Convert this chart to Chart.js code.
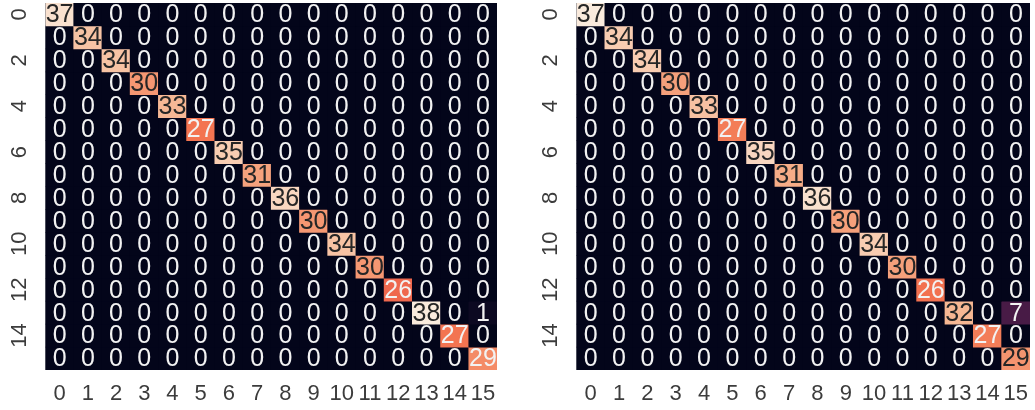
<!DOCTYPE html>
<html>
<head>
<meta charset="utf-8">
<script src="https://cdn.jsdelivr.net/npm/chart.js@4.4.1/dist/chart.umd.min.js"></script>
<style>
  html, body { margin: 0; padding: 0; background: #fff; }
  #wrap { position: relative; width: 1035px; height: 410px; }
  canvas { position: absolute; top: 0; }
</style>
</head>
<body>
<div id="wrap">
  <canvas id="leftChart" width="517" height="410" style="left:0"></canvas>
  <canvas id="rightChart" width="518" height="410" style="left:517px"></canvas>
</div>
<script>
const classLabels = ['0','1','2','3','4','5','6','7','8','9','10','11','12','13','14','15'];
const rowTickLabels = ['0','2','4','6','8','10','12','14'];

// confusion matrices, row = true class, column = predicted class
const leftCounts = [
  [37,0,0,0,0,0,0,0,0,0,0,0,0,0,0,0],
  [0,34,0,0,0,0,0,0,0,0,0,0,0,0,0,0],
  [0,0,34,0,0,0,0,0,0,0,0,0,0,0,0,0],
  [0,0,0,30,0,0,0,0,0,0,0,0,0,0,0,0],
  [0,0,0,0,33,0,0,0,0,0,0,0,0,0,0,0],
  [0,0,0,0,0,27,0,0,0,0,0,0,0,0,0,0],
  [0,0,0,0,0,0,35,0,0,0,0,0,0,0,0,0],
  [0,0,0,0,0,0,0,31,0,0,0,0,0,0,0,0],
  [0,0,0,0,0,0,0,0,36,0,0,0,0,0,0,0],
  [0,0,0,0,0,0,0,0,0,30,0,0,0,0,0,0],
  [0,0,0,0,0,0,0,0,0,0,34,0,0,0,0,0],
  [0,0,0,0,0,0,0,0,0,0,0,30,0,0,0,0],
  [0,0,0,0,0,0,0,0,0,0,0,0,26,0,0,0],
  [0,0,0,0,0,0,0,0,0,0,0,0,0,38,0,1],
  [0,0,0,0,0,0,0,0,0,0,0,0,0,0,27,0],
  [0,0,0,0,0,0,0,0,0,0,0,0,0,0,0,29]
];
const rightCounts = [
  [37,0,0,0,0,0,0,0,0,0,0,0,0,0,0,0],
  [0,34,0,0,0,0,0,0,0,0,0,0,0,0,0,0],
  [0,0,34,0,0,0,0,0,0,0,0,0,0,0,0,0],
  [0,0,0,30,0,0,0,0,0,0,0,0,0,0,0,0],
  [0,0,0,0,33,0,0,0,0,0,0,0,0,0,0,0],
  [0,0,0,0,0,27,0,0,0,0,0,0,0,0,0,0],
  [0,0,0,0,0,0,35,0,0,0,0,0,0,0,0,0],
  [0,0,0,0,0,0,0,31,0,0,0,0,0,0,0,0],
  [0,0,0,0,0,0,0,0,36,0,0,0,0,0,0,0],
  [0,0,0,0,0,0,0,0,0,30,0,0,0,0,0,0],
  [0,0,0,0,0,0,0,0,0,0,34,0,0,0,0,0],
  [0,0,0,0,0,0,0,0,0,0,0,30,0,0,0,0],
  [0,0,0,0,0,0,0,0,0,0,0,0,26,0,0,0],
  [0,0,0,0,0,0,0,0,0,0,0,0,0,32,0,7],
  [0,0,0,0,0,0,0,0,0,0,0,0,0,0,27,0],
  [0,0,0,0,0,0,0,0,0,0,0,0,0,0,0,29]
];

// seaborn "rocket" colormap, approximated by linear stops
const rocket = [
  [0.000, [3, 5, 26]],
  [0.143, [53, 25, 62]],
  [0.286, [112, 31, 87]],
  [0.429, [173, 23, 89]],
  [0.571, [225, 51, 66]],
  [0.714, [243, 118, 81]],
  [0.857, [246, 180, 143]],
  [1.000, [250, 235, 221]]
];

const FONT = '"Liberation Sans", Arial, sans-serif';

function rocketColor(t) {
  t = Math.max(0, Math.min(1, t));
  for (let i = 1; i < rocket.length; i++) {
    if (t <= rocket[i][0]) {
      const [t0, c0] = rocket[i - 1];
      const [t1, c1] = rocket[i];
      const f = (t - t0) / (t1 - t0);
      return c0.map((v, k) => Math.round(v + (c1[k] - v) * f));
    }
  }
  return rocket[rocket.length - 1][1];
}

function luminance(rgb) {
  const lin = rgb.map(v => {
    v /= 255;
    return v <= 0.03928 ? v / 12.92 : Math.pow((v + 0.055) / 1.055, 2.4);
  });
  return 0.2126 * lin[0] + 0.7152 * lin[1] + 0.0722 * lin[2];
}

const heatmapPlugin = {
  id: 'heatmapPlugin',
  beforeDatasetsDraw(chart) {
    // fill the plot with the zero colour so cell seams don't show
    const a = chart.chartArea;
    const ctx = chart.ctx;
    ctx.save();
    ctx.fillStyle = 'rgb(3,5,26)';
    ctx.fillRect(a.left, a.top, a.right - a.left, a.bottom - a.top);
    ctx.restore();
  },
  afterDatasetsDraw(chart) {
    const ctx = chart.ctx;
    ctx.save();
    ctx.font = '25px ' + FONT;
    ctx.textAlign = 'center';
    ctx.textBaseline = 'middle';
    chart.data.datasets.forEach((ds, r) => {
      chart.getDatasetMeta(r).data.forEach((bar, c) => {
        const rgb = ds.cellRgb[c];
        ctx.fillStyle = luminance(rgb) > 0.408 ? '#262626' : '#f2f2f2';
        ctx.fillText(String(ds.counts[c]), bar.x, (bar.y + bar.base) / 2 + 1);
      });
    });
    ctx.restore();
  },
  afterDraw(chart, args, opts) {
    const x = chart.scales.x;
    const y = chart.scales.y;
    const area = chart.chartArea;
    const ctx = chart.ctx;
    ctx.save();
    ctx.font = '22px ' + FONT;
    ctx.fillStyle = '#3c3c3c';
    ctx.textAlign = 'center';
    ctx.textBaseline = 'middle';
    // column labels under the grid
    classLabels.forEach((lbl, i) => {
      ctx.fillText(lbl, x.getPixelForValue(i), area.bottom + opts.xLabelGap);
    });
    // rotated row labels (every second class), like matplotlib's y ticks
    rowTickLabels.forEach(lbl => {
      const py = y.getPixelForValue(Number(lbl) + 0.5);
      ctx.save();
      ctx.translate(area.left - opts.yLabelGap, py);
      ctx.rotate(-Math.PI / 2);
      ctx.fillText(lbl, 0, 1);
      ctx.restore();
    });
    ctx.restore();
  }
};

function drawHeatmap(canvasId, counts, padLeft, padRight) {
  const vmax = Math.max(...counts.flat());
  const datasets = counts.map((row, r) => {
    const cellRgb = row.map(v => rocketColor(v / vmax));
    return {
      label: 'row ' + r,
      data: row.map(() => [r, r + 1]),
      counts: row,
      cellRgb: cellRgb,
      backgroundColor: cellRgb.map(c => `rgb(${c[0]},${c[1]},${c[2]})`),
      borderWidth: 0,
      barPercentage: 1,
      categoryPercentage: 1,
      grouped: false
    };
  });

  return new Chart(document.getElementById(canvasId), {
    type: 'bar',
    data: { labels: classLabels, datasets: datasets },
    plugins: [heatmapPlugin],
    options: {
      responsive: false,
      animation: false,
      layout: { padding: { left: padLeft, right: padRight, top: 3, bottom: 40 } },
      plugins: {
        legend: { display: false },
        tooltip: { enabled: false },
        heatmapPlugin: { xLabelGap: 24, yLabelGap: 26.5 }
      },
      scales: {
        x: { display: false },
        y: { display: false, min: 0, max: 16, reverse: true }
      }
    }
  });
}

drawHeatmap('leftChart', leftCounts, 45.5, 20);
drawHeatmap('rightChart', rightCounts, 59.5, 5);
</script>
</body>
</html>
